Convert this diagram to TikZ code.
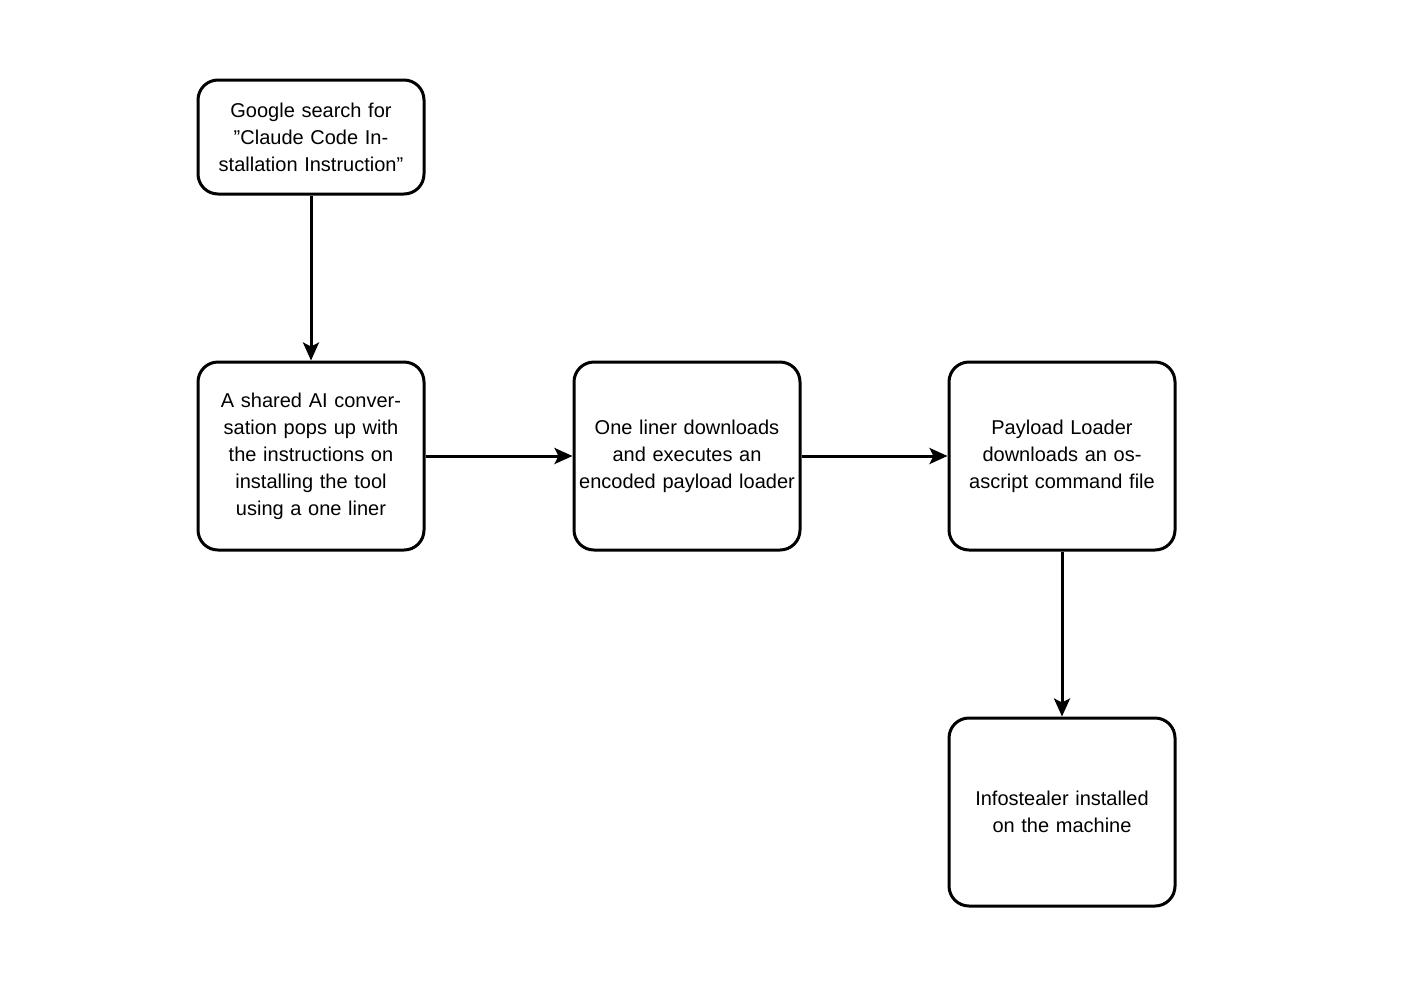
\documentclass[tikz,border=0pt]{standalone}
\usepackage{fontspec}
\setmainfont{Liberation Sans}
\usetikzlibrary{arrows.meta}
\begin{document}
\begin{tikzpicture}[x=0.5pt,y=-0.5pt,
  box/.style={draw,line width=1.5pt,rounded corners=10pt,minimum width=113pt,text width=108pt,align=center,inner sep=0pt,font=\fontsize{10}{13.5}\selectfont},
  arr/.style={line width=1.5pt,-{Stealth[length=9pt,width=8pt,inset=2pt]}}]
\useasboundingbox (0,0) rectangle (1412,980);
\node[box,minimum height=57pt] (a) at (311,137) {Google search for "Claude Code Installation Instruction"};
\node[box,minimum height=94pt] (b) at (311,456) {A shared AI conversation pops up with the instructions on installing the tool using a one liner};
\node[box,minimum height=94pt] (c) at (687,456) {One liner downloads and executes an encoded payload loader};
\node[box,minimum height=94pt] (d) at (1062,456) {Payload Loader downloads an osascript command file};
\node[box,minimum height=94pt] (e) at (1062,812) {Infostealer installed on the machine};
\draw[arr] (a) -- (b);
\draw[arr] (b) -- (c);
\draw[arr] (c) -- (d);
\draw[arr] (d) -- (e);
\end{tikzpicture}
\end{document}
